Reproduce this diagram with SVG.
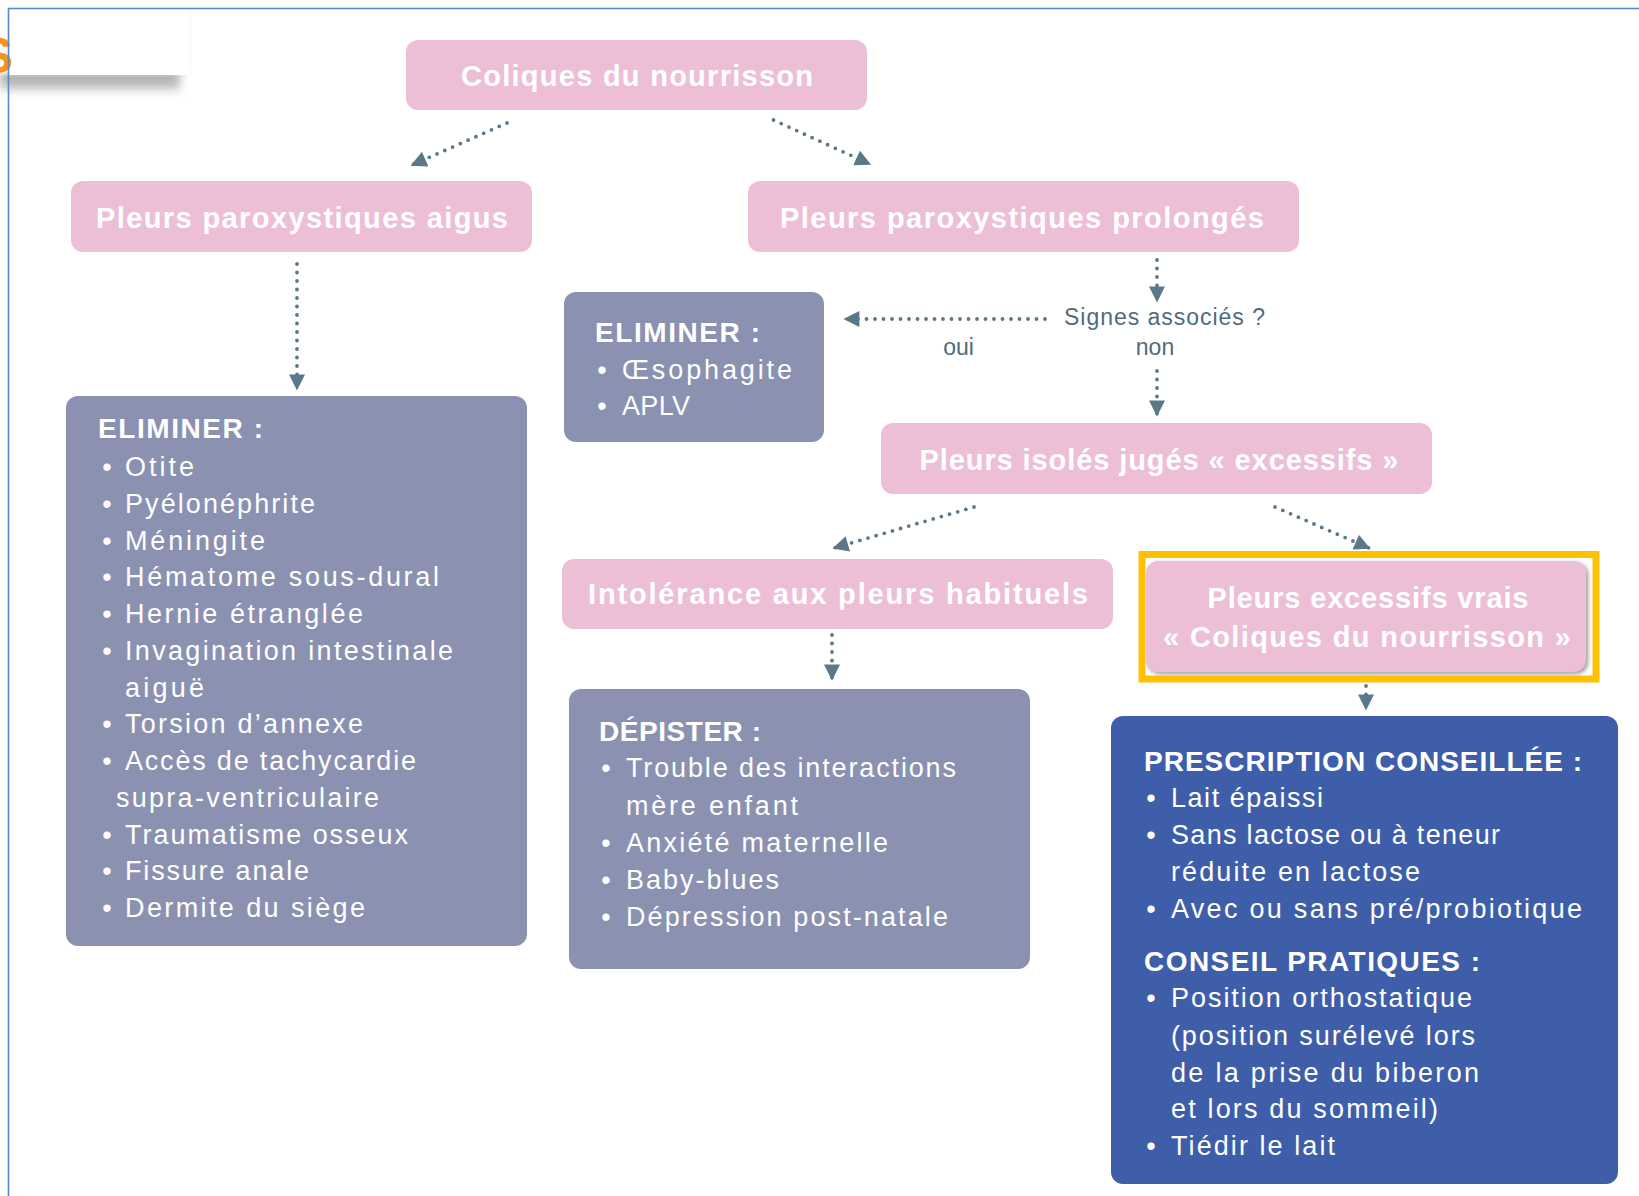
<svg xmlns="http://www.w3.org/2000/svg" width="1639" height="1196" viewBox="0 0 1639 1196">
<defs>
<style>
.pink{fill:#EDBFD7}
.grey{fill:#8B91B1}
.blue{fill:#3F5EA9}
.ht{font-family:"Liberation Sans",Arial,sans-serif;font-weight:bold;font-size:29px;fill:#FFFFFF;text-anchor:middle}
.bh{font-family:"Liberation Sans",Arial,sans-serif;font-weight:bold;font-size:28px;fill:#FFFFFF}
.bt{font-family:"Liberation Sans",Arial,sans-serif;font-size:27px;fill:#FFFFFF}
.bu{font-family:"Liberation Sans",Arial,sans-serif;font-size:27px;fill:#FFFFFF;text-anchor:middle}
.lbl{font-family:"Liberation Sans",Arial,sans-serif;font-size:23px;fill:#4F6B7C}
.con{fill:none;stroke:#5B7889;stroke-width:3.8;stroke-linecap:round;stroke-dasharray:0 8.5;marker-end:url(#ah)}
</style>
<marker id="ah" viewBox="0 0 10 10" refX="9" refY="5" markerWidth="17" markerHeight="16" markerUnits="userSpaceOnUse" orient="auto">
<path d="M0,0 L10,5 L0,10 z" fill="#5B7889"/>
</marker>
<linearGradient id="shg" x1="0" y1="0" x2="0" y2="1">
<stop offset="0" stop-color="#A9A9A9"/>
<stop offset="0.45" stop-color="#C6C6C6"/>
<stop offset="1" stop-color="#FFFFFF" stop-opacity="0"/>
</linearGradient>
<filter id="blur" x="-20%" y="-50%" width="140%" height="200%">
<feGaussianBlur stdDeviation="5 2"/>
</filter>
<filter id="blur2" x="-50%" y="-20%" width="200%" height="140%">
<feGaussianBlur stdDeviation="3"/>
</filter>
<filter id="sh" x="-5%" y="-10%" width="110%" height="120%">
<feGaussianBlur stdDeviation="2"/>
</filter>
</defs>
<rect x="0" y="0" width="1639" height="1196" fill="#FFFFFF"/>
<g id="corner">
<rect x="183" y="12" width="6" height="62" fill="#EFEFEF" filter="url(#blur2)"/>
<rect x="0" y="74" width="180" height="26" fill="url(#shg)" filter="url(#blur)"/>
<rect x="9" y="9" width="180" height="66" fill="#FFFFFF"/>
<text x="13" y="73" font-family="Liberation Sans,Arial,sans-serif" font-weight="bold" font-size="50" fill="#F7941D" text-anchor="end">S</text>
</g>
<rect x="8.5" y="8.5" width="1700" height="1300" fill="none" stroke="#5B89C8" stroke-width="1.6"/>

<g id="connectors">
<path class="con" d="M507,123 L412,165"/>
<path class="con" d="M773.5,120 L869.7,164"/>
<path class="con" d="M297,264 L297,389"/>
<path class="con" d="M1157,260 L1157,301"/>
<path class="con" d="M1045,319 L845,319"/>
<path class="con" d="M1157,371 L1157,415"/>
<path class="con" d="M974,507 L834,548"/>
<path class="con" d="M1275,507 L1369,548"/>
<path class="con" d="M832,635 L832,679"/>
<path class="con" d="M1366,686 L1366,709"/>
</g>

<g id="root">
<rect class="pink" x="406" y="40" width="461" height="70" rx="12"/>
<text class="ht" x="637" y="86" textLength="352">Coliques du nourrisson</text>
</g>
<g id="aigus">
<rect class="pink" x="71" y="181" width="461" height="71" rx="12"/>
<text class="ht" x="302" y="228" textLength="412">Pleurs paroxystiques aigus</text>
</g>
<g id="prolonges">
<rect class="pink" x="748" y="181" width="551" height="71" rx="12"/>
<text class="ht" x="1022" y="228" textLength="484">Pleurs paroxystiques prolongés</text>
</g>
<g id="signes">
<text class="lbl" x="1064" y="325" textLength="201">Signes associés ?</text>
<text class="lbl" x="958.5" y="355" text-anchor="middle">oui</text>
<text class="lbl" x="1155" y="355" text-anchor="middle">non</text>
</g>
<g id="eliminer-small">
<rect class="grey" x="564" y="292" width="260" height="150" rx="12"/>
<text class="bh" x="595" y="342" textLength="165">ELIMINER :</text>
<text class="bu" x="602" y="379">•</text>
<text class="bt" x="622" y="379" textLength="170">Œsophagite</text>
<text class="bu" x="602" y="415">•</text>
<text class="bt" x="622" y="415" textLength="68">APLV</text>
</g>
<g id="isoles">
<rect class="pink" x="881" y="423" width="551" height="71" rx="12"/>
<text class="ht" x="1159" y="470" textLength="479">Pleurs isolés jugés « excessifs »</text>
</g>
<g id="intolerance">
<rect class="pink" x="562" y="559" width="551" height="70" rx="12"/>
<text class="ht" x="838" y="604" textLength="500">Intolérance aux pleurs habituels</text>
</g>
<g id="excessifs-vrais">
<rect x="1148" y="563" width="440" height="111" rx="12" fill="#9A9A9A" filter="url(#sh)"/>
<rect class="pink" x="1146" y="561" width="440" height="111" rx="12"/>
<text class="ht" x="1368" y="608" textLength="321">Pleurs excessifs vrais</text>
<text class="ht" x="1367" y="647" textLength="408">« Coliques du nourrisson »</text>
<rect x="1142" y="554.5" width="454" height="124.5" fill="none" stroke="#FFC000" stroke-width="7"/>
</g>
<g id="eliminer-big">
<rect class="grey" x="66" y="396" width="461" height="550" rx="12"/>
<text class="bh" x="98" y="438" textLength="165">ELIMINER :</text>
<text class="bu" x="107" y="476">•</text><text class="bt" x="125" y="476" textLength="69">Otite</text>
<text class="bu" x="107" y="512.75">•</text><text class="bt" x="125" y="512.75" textLength="190">Pyélonéphrite</text>
<text class="bu" x="107" y="549.5">•</text><text class="bt" x="125" y="549.5" textLength="140">Méningite</text>
<text class="bu" x="107" y="586.25">•</text><text class="bt" x="125" y="586.25" textLength="314">Hématome sous-dural</text>
<text class="bu" x="107" y="623">•</text><text class="bt" x="125" y="623" textLength="238">Hernie étranglée</text>
<text class="bu" x="107" y="659.75">•</text><text class="bt" x="125" y="659.75" textLength="328">Invagination intestinale</text>
<text class="bt" x="125" y="696.5" textLength="79">aiguë</text>
<text class="bu" x="107" y="733.25">•</text><text class="bt" x="125" y="733.25" textLength="238">Torsion d’annexe</text>
<text class="bu" x="107" y="770">•</text><text class="bt" x="125" y="770" textLength="291">Accès de tachycardie</text>
<text class="bt" x="116" y="806.75" textLength="263">supra-ventriculaire</text>
<text class="bu" x="107" y="843.5">•</text><text class="bt" x="125" y="843.5" textLength="283">Traumatisme osseux</text>
<text class="bu" x="107" y="880.25">•</text><text class="bt" x="125" y="880.25" textLength="184">Fissure anale</text>
<text class="bu" x="107" y="917">•</text><text class="bt" x="125" y="917" textLength="240">Dermite du siège</text>
</g>
<g id="depister">
<rect class="grey" x="569" y="689" width="461" height="280" rx="12"/>
<text class="bh" x="599" y="741" textLength="162">DÉPISTER :</text>
<text class="bu" x="606" y="777">•</text><text class="bt" x="626" y="777" textLength="330">Trouble des interactions</text>
<text class="bt" x="626" y="815" textLength="172">mère enfant</text>
<text class="bu" x="606" y="851.5">•</text><text class="bt" x="626" y="851.5" textLength="262">Anxiété maternelle</text>
<text class="bu" x="606" y="889">•</text><text class="bt" x="626" y="889" textLength="153">Baby-blues</text>
<text class="bu" x="606" y="925.5">•</text><text class="bt" x="626" y="925.5" textLength="322">Dépression post-natale</text>
</g>
<g id="prescription">
<rect class="blue" x="1111" y="716" width="507" height="468" rx="12"/>
<text class="bh" x="1144" y="771" textLength="438">PRESCRIPTION CONSEILLÉE :</text>
<text class="bu" x="1151" y="806.5">•</text><text class="bt" x="1171" y="806.5" textLength="152">Lait épaissi</text>
<text class="bu" x="1151" y="844">•</text><text class="bt" x="1171" y="844" textLength="329">Sans lactose ou à teneur</text>
<text class="bt" x="1171" y="880.5" textLength="249">réduite en lactose</text>
<text class="bu" x="1151" y="918">•</text><text class="bt" x="1171" y="918" textLength="411">Avec ou sans pré/probiotique</text>
<text class="bh" x="1144" y="970.5" textLength="336">CONSEIL PRATIQUES :</text>
<text class="bu" x="1151" y="1007">•</text><text class="bt" x="1171" y="1007" textLength="301">Position orthostatique</text>
<text class="bt" x="1171" y="1045" textLength="304">(position surélevé lors</text>
<text class="bt" x="1171" y="1081.5" textLength="308">de la prise du biberon</text>
<text class="bt" x="1171" y="1118" textLength="267">et lors du sommeil)</text>
<text class="bu" x="1151" y="1154.5">•</text><text class="bt" x="1171" y="1154.5" textLength="164">Tiédir le lait</text>
</g>
</svg>
